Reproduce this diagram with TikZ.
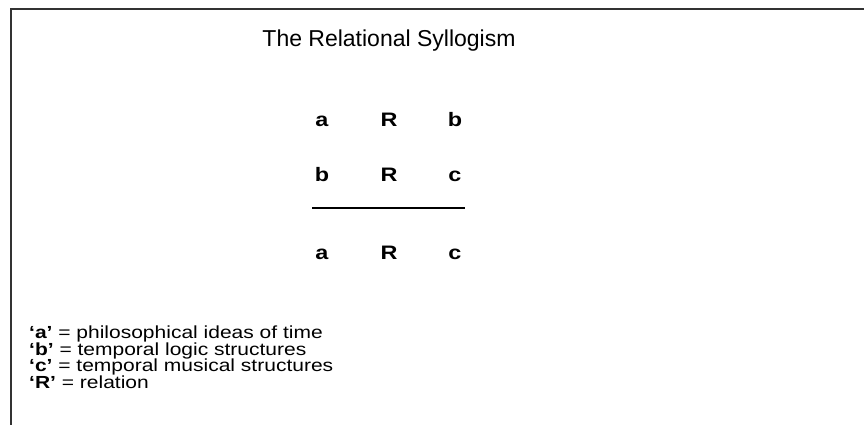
\documentclass[tikz,border=0pt]{standalone}
\usepackage{fontspec}
\setmainfont{Liberation Sans}
\usepackage{tikz}
\usetikzlibrary{positioning}

% the source text is set a little wide
\newcommand{\widetext}[1]{\scalebox{1.2}[1]{#1}}

\begin{document}
\begin{tikzpicture}[
  x=1pt, y=-1pt,
  term/.style={anchor=base, inner sep=0pt, font=\fontsize{19.5}{24}\selectfont\bfseries},
  key/.style={anchor=base west, inner sep=0pt, font=\fontsize{17.5}{20}\selectfont}
]
\useasboundingbox (0,0) rectangle (864,425);
% frame (only top and left edges show)
\draw[line width=1.3pt, black!80] (11,425) -- (11,9) -- (864,9);

\node[anchor=base, inner sep=0pt, font=\fontsize{23}{27}\selectfont] (title) at (389,47) {The Relational Syllogism};

% premises and conclusion
\node[term] (a1) at (322,127) {\widetext{a}};
\node[term] (r1) at (389,127) {\widetext{R}};
\node[term] (b1) at (455,127) {\widetext{b}};
\node[term] (b2) at (322,181) {\widetext{b}};
\node[term] (r2) at (389,181) {\widetext{R}};
\node[term] (c2) at (455,181) {\widetext{c}};
\node[term] (a3) at (322,259) {\widetext{a}};
\node[term] (r3) at (389,259) {\widetext{R}};
\node[term] (c3) at (455,259) {\widetext{c}};
\coordinate (barl) at (312,208);
\coordinate (barr) at (465,208);
\draw[line width=1.4pt] (barl) -- (barr);

% key
\node[key] (keya) at (29,338) {\widetext{\textbf{‘a’} = philosophical ideas of time}};
\node[key] (keyb) at (29,355) {\widetext{\textbf{‘b’} = temporal logic structures}};
\node[key] (keyc) at (29,371.5) {\widetext{\textbf{‘c’} = temporal musical structures}};
\node[key] (keyr) at (29,388) {\widetext{\textbf{‘R’} = relation}};
\end{tikzpicture}
\end{document}
